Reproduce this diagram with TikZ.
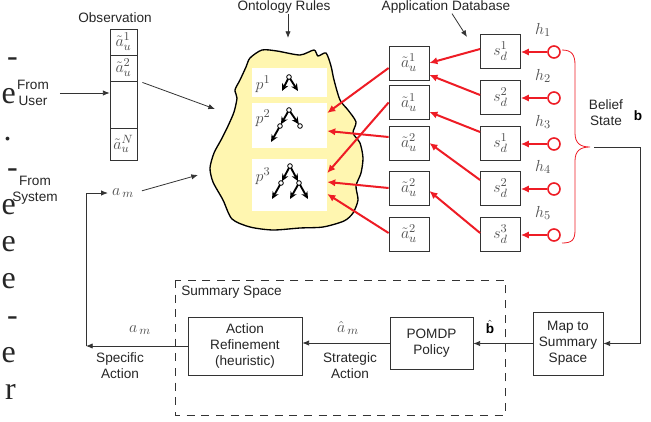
\documentclass[tikz,border=0pt]{standalone}
\usepackage{fontspec}
\setmainfont{Liberation Sans}
\newfontfamily\pageserif{Liberation Serif}
\usetikzlibrary{arrows.meta}

\definecolor{cloudyellow}{HTML}{FFF6B0}
\definecolor{linkred}{HTML}{EE1C25}
\definecolor{labelgray}{HTML}{505050}

\tikzset{
  labeltext/.style={font=\fontsize{10.2}{12}\selectfont, text=black!85, align=center, inner sep=0pt},
  mathlbl/.style={font=\fontsize{13}{15}\selectfont, text=labelgray, inner sep=0pt},
  pagetext/.style={font=\pageserif\fontsize{24}{24}\selectfont, text=black!85, inner sep=0pt, anchor=base east},
  obscell/.style={draw=black!80, line width=0.6pt, fill=white, minimum width=20.25pt, inner sep=0pt,
    font=\fontsize{13}{15}\selectfont, text=labelgray},
  cellbox/.style={draw=black!80, line width=0.6pt, fill=white, minimum width=30pt, minimum height=25.5pt,
    inner sep=0pt, font=\fontsize{13}{15}\selectfont, text=labelgray},
  procbox/.style={draw=black!80, line width=0.6pt, fill=white, align=center, inner sep=0pt,
    font=\fontsize{10.2}{12}\selectfont, text=black!85},
  rulebox/.style={fill=white, minimum width=56.25pt, inner sep=0pt},
  redlink/.style={linkred, line width=1.5pt, -{Latex[length=6pt,width=5.5pt]}},
  flow/.style={black!80, line width=0.6pt, -{Latex[length=5pt,width=4pt]}},
  hnode/.style={circle, draw=linkred, fill=white, line width=1.2pt, minimum size=9pt, inner sep=0pt},
  treearrow/.style={line width=1.4pt, -{Stealth[length=5.5pt,width=5pt]}},
  treedot/.style={circle, draw, fill=white, line width=0.6pt, minimum size=3.5pt, inner sep=0pt},
}

\begin{document}
\begin{tikzpicture}[x=0.75pt,y=-0.75pt]
  \useasboundingbox (0,0) rectangle (651,422);

  % Line ends of the page text beside the figure
  \foreach \xx/\ch [count=\k from 0] in {18/-,16/e,12/.,18/-,16/e,16/e,16/e,18/-,16/e,16/r}
    \node[pagetext] (frag\k) at (\xx,66+37*\k) {\ch};

  % Observation column
  \node[labeltext] (obstitle) at (115,18) {Observation};
  \node[obscell, minimum height=19.5pt] (obs1) at (123.5,42) {$\tilde{a}_u^{1}$};
  \node[obscell, minimum height=19.5pt] (obs2) at (123.5,68) {$\tilde{a}_u^{2}$};
  \node[obscell, minimum height=35.25pt] (obsgap) at (123.5,104.5) {};
  \node[obscell, minimum height=24pt] (obsN) at (123.5,144) {$\tilde{a}_u^{N}$};

  \node[labeltext] (fromuser) at (33,93) {From\\User};
  \draw[flow, shorten <=8pt] (fromuser.east) -- (fromuser.east -| obsgap.west);

  \node[labeltext] (fromsys) at (35,190) {From\\System};
  \node[mathlbl] (amin) at (123,193) {$a_{\,m}$};

  % Ontology rules cloud
  \draw[fill=cloudyellow, line width=1pt] plot[smooth cycle, tension=0.45] coordinates {
    (250,58) (262,50) (277,51) (300,55) (314,50) (318,56) (326,53) (331,66) (334,80)
    (340,100) (348,110) (356,122) (353,133) (360,143) (363,158) (361,173) (356,186)
    (358,200) (353,213) (344,221) (323,227) (300,228) (273,230) (250,227) (232,219)
    (223,200) (213,182) (210,168) (214,153) (221,140) (228,126) (234,112) (237,98)
    (235,90) (240,80) (246,67)};
  \coordinate (cloudin1) at (215,109);
  \coordinate (cloudin2) at (198,175);
  \coordinate (cloudtop) at (288,38);

  \node[rulebox, minimum height=21.75pt] (rule1) at (289.5,82.5) {};
  \node[rulebox, minimum height=33.75pt] (rule2) at (289.5,125.5) {};
  \node[rulebox, minimum height=39pt] (rule3) at (289.5,185) {};
  \node[mathlbl] (p1) at (263,84) {$p^1$};
  \node[mathlbl] (p2) at (263,118) {$p^2$};
  \node[mathlbl] (p3) at (263,176) {$p^3$};

  % Rule trees
  \draw[treearrow] (289,77) -- (282,91);
  \draw[treearrow] (289,77) -- (298,91);
  \node[treedot] at (289,77) {};
  \draw[treearrow, shorten >=1.5pt] (289,110) -- (280,126);
  \draw[treearrow, shorten >=1.5pt] (289,110) -- (300,126);
  \draw[treearrow] (280,126) -- (271,142);
  \node[treedot] at (289,110) {};
  \node[treedot] at (280,126) {};
  \node[treedot] at (300,126) {};
  \draw[treearrow, shorten >=1.5pt] (290,166) -- (281,183);
  \draw[treearrow, shorten >=1.5pt] (290,166) -- (299,183);
  \draw[treearrow] (281,183) -- (272,199);
  \draw[treearrow] (299,183) -- (290,199);
  \draw[treearrow] (299,183) -- (308,199);
  \node[treedot] at (290,166) {};
  \node[treedot] at (281,183) {};
  \node[treedot] at (299,183) {};

  % Inputs to the cloud
  \node[labeltext] (ontrules) at (284,7) {Ontology Rules};
  \draw[flow] ([xshift=3pt]ontrules.south) -- (cloudtop);
  \draw[flow, shorten <=4pt] (obsgap.north east) -- (cloudin1);
  \draw[flow, shorten <=6pt] (amin.east) -- (cloudin2);

  % Application database
  \node[labeltext] (appdb) at (446,7) {Application Database};
  \coordinate (dbtip) at (467,37);
  \draw[flow] ([xshift=4.5pt]appdb.south) -- (dbtip);

  \node[cellbox] (a1) at (409,63) {$\tilde{a}_u^{1}$};
  \node[cellbox] (a2) at (409,102.5) {$\tilde{a}_u^{1}$};
  \node[cellbox] (a3) at (409,143) {$\tilde{a}_u^{2}$};
  \node[cellbox] (a4) at (409,188) {$\tilde{a}_u^{2}$};
  \node[cellbox] (a5) at (409,234) {$\tilde{a}_u^{2}$};

  \foreach \i/\y/\sp in {1/51/1,2/97/2,3/143/1,4/188/2,5/234/3} {
    \node[cellbox] (s\i) at (500.5,\y) {$s_d^{\sp}$};
    \node[hnode] (h\i) at (554,\y+1) {};
    \node[mathlbl] (h\i lbl) at (543,\y-21) {$h_{\i}$};
    \draw[redlink] (h\i.west) -- (h\i.west -| s\i.east);
  }

  % Database to observations
  \draw[redlink] ([yshift=1.5pt]s1.west) -- (a1.east);
  \draw[redlink] ([yshift=1.5pt]s2.west) -- ([yshift=-9pt]a1.east);
  \draw[redlink] ([yshift=8.25pt]s3.west) -- ([yshift=-7.1pt]a2.east);
  \draw[redlink] ([yshift=6pt]s4.west) -- (a3.east);
  \draw[redlink] ([yshift=0.75pt]s5.west) -- ([yshift=-2.25pt]a4.east);

  % Observations to rules
  \draw[redlink] ([yshift=-3.75pt]a1.west) -- ([yshift=9.4pt]rule2.east);
  \draw[redlink] (a2.west) -- ([yshift=9pt]rule3.east);
  \draw[redlink] ([yshift=4.5pt]a3.west) -- ([yshift=-4.1pt]rule2.east);
  \draw[redlink] (a4.west) -- ([yshift=2.25pt]rule3.east);
  \draw[redlink] ([yshift=0.75pt]a5.west) -- ([yshift=-6.75pt]rule3.east);

  % Belief state
  \draw[linkred, line width=0.6pt] (562,50) .. controls (572,50) and (575,55) .. (575,65)
    -- (575,133) .. controls (575,143) and (580,147) .. (590,147)
    .. controls (580,147) and (575,151) .. (575,161)
    -- (575,230) .. controls (575,240) and (572,243) .. (562,243);
  \coordinate (bracetip) at (594,147);
  \coordinate (fbright) at (640,147);
  \node[labeltext] (belief) at (606,113) {Belief\\State};
  \node[labeltext, font=\fontsize{10.2}{12}\selectfont\bfseries, text=black] (bvec) at (638,116) {b};

  % Summary space
  \draw[black!80, line width=0.6pt, dash pattern=on 6pt off 5pt] (175,280) rectangle (505,415);
  \node[labeltext, anchor=west] (sumlbl) at (181,292) {Summary Space};

  \node[procbox, minimum width=52.5pt, minimum height=47.25pt] (mapbox) at (568,343.5) {Map to\\Summary\\Space};
  \node[procbox, minimum width=62.25pt, minimum height=39pt] (pomdp) at (431.5,343) {POMDP\\Policy};
  \node[procbox, minimum width=85.5pt, minimum height=43.5pt] (refine) at (245,346) {Action\\Refinement\\(heuristic)};

  \draw[flow] (bracetip) -- (fbright) |- (mapbox.east);
  \draw[flow] (mapbox.west) -- (mapbox.west -| pomdp.east);
  \node[labeltext, text=black] (bhat) at (490,327) {$\hat{\textbf{b}}$};
  \draw[flow] (pomdp.west) -- (pomdp.west -| refine.east);
  \node[mathlbl] (amhat) at (348,328) {$\hat{a}_{\,m}$};
  \node[labeltext] (strat) at (350,366) {Strategic\\Action};

  % Specific action back to the input
  \coordinate (fbcorner) at (86,346);
  \draw[flow] (refine.west) -- (fbcorner);
  \draw[flow, shorten >=3pt] (fbcorner) |- (amin.west);
  \node[mathlbl] (amout) at (140,330) {$a_{\,m}$};
  \node[labeltext] (specific) at (120,366) {Specific\\Action};
\end{tikzpicture}
\end{document}
